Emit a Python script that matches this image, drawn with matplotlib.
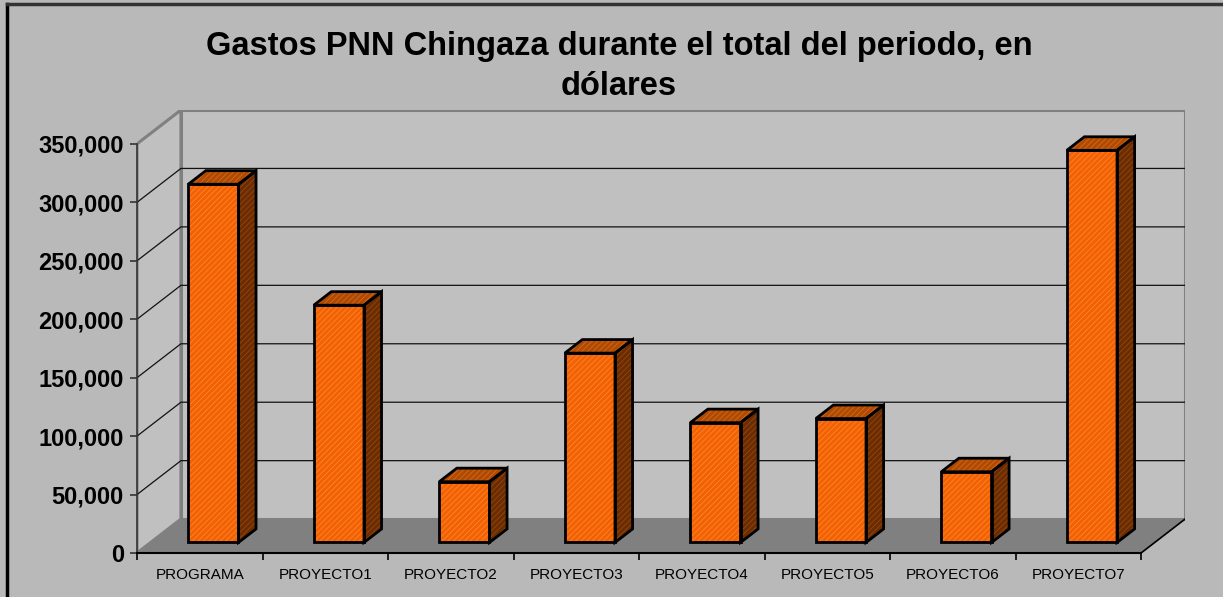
import numpy as np
import matplotlib.pyplot as plt
from matplotlib.patches import Polygon
from matplotlib.lines import Line2D
from matplotlib.ticker import FuncFormatter

categorias = ['PROGRAMA', 'PROYECTO1', 'PROYECTO2', 'PROYECTO3',
              'PROYECTO4', 'PROYECTO5', 'PROYECTO6', 'PROYECTO7']
gastos = [306500, 203000, 52000, 162000, 102500, 106000, 60500, 335500]
yticks = [0, 50000, 100000, 150000, 200000, 250000, 300000, 350000]

titulo = 'Gastos PNN Chingaza durante el total del periodo, en\ndólares'

plt.rcParams['font.family'] = 'Liberation Sans'
plt.rcParams['hatch.linewidth'] = 0.6

# oblique depth of the 3d box (category units, value units)
DX, DY = 0.35, 29000
ymax = yticks[-1]
n = len(categorias)

fig = plt.figure(figsize=(12.23, 5.97), dpi=100, facecolor='#b9b9b9')
ax = fig.add_axes([137/1223, 44/597, 1048/1223, 443/597])
ax.set_facecolor('none')
ax.set_xlim(0, n + DX)
ax.set_ylim(0, ymax + DY)

wall = '#c0c0c0'
edge = '#808080'
# back wall
ax.add_patch(Polygon([(DX, DY), (n + DX, DY), (n + DX, ymax + DY), (DX, ymax + DY)],
                     closed=True, facecolor=wall, edgecolor=edge, lw=2.2, zorder=1))
# left wall
ax.add_patch(Polygon([(0, 0), (DX, DY), (DX, ymax + DY), (0, ymax)],
                     closed=True, facecolor=wall, edgecolor=edge, lw=2.2, zorder=1))
# floor
ax.add_patch(Polygon([(0, 0), (n, 0), (n + DX, DY), (DX, DY)],
                     closed=True, facecolor='#808080', edgecolor='none', zorder=2))
ax.plot([n, n + DX], [0, DY], color='black', lw=1.2, zorder=3)

# gridlines
for v in yticks[1:-1]:
    ax.plot([0, DX, n + DX], [v, v + DY, v + DY], color='#111111', lw=0.9, zorder=2)

# bars
d0, d1 = 0.31, 0.71
for i, v in enumerate(gastos):
    x0, x1 = i + 0.3, i + 0.7
    ox0, oy0 = d0 * DX, d0 * DY
    ox1, oy1 = d1 * DX, d1 * DY
    front = [(x0 + ox0, oy0), (x1 + ox0, oy0), (x1 + ox0, v + oy0), (x0 + ox0, v + oy0)]
    side = [(x1 + ox0, oy0), (x1 + ox1, oy1), (x1 + ox1, v + oy1), (x1 + ox0, v + oy0)]
    top = [(x0 + ox0, v + oy0), (x1 + ox0, v + oy0), (x1 + ox1, v + oy1), (x0 + ox1, v + oy1)]
    for pts, fc, hc in [(front, '#f26200', '#ff8236'),
                        (side, '#6a2c00', '#94470f'),
                        (top, '#b04a00', '#d06a22')]:
        ax.add_patch(Polygon(pts, closed=True, facecolor=fc, edgecolor=hc,
                             lw=0, hatch='//////', zorder=4))
        ax.add_patch(Polygon(pts, closed=True, facecolor='none', edgecolor='black',
                             lw=2.0, joinstyle='miter', zorder=5))

# axes
for s in ['top', 'right']:
    ax.spines[s].set_visible(False)
ax.spines['left'].set_bounds(0, ymax)
ax.spines['left'].set_color('#333333')
ax.spines['left'].set_linewidth(1.2)
ax.spines['bottom'].set_bounds(0, n)
ax.spines['bottom'].set_linewidth(1.5)
ax.spines['left'].set_zorder(6)
ax.spines['bottom'].set_zorder(6)

ax.set_yticks(yticks)
ax.yaxis.set_major_formatter(FuncFormatter(lambda v, p: f'{int(v):,}'))
ax.tick_params(axis='y', direction='out', length=5, width=1.2, pad=4.5,
               labelsize=17, color='#333333')
for lab in ax.get_yticklabels():
    lab.set_fontweight('bold')

ax.set_xticks(np.arange(n + 1))
ax.set_xticklabels([])
ax.set_xticks(np.arange(n) + 0.5, minor=True)
ax.set_xticklabels(categorias, minor=True)
ax.tick_params(axis='x', which='major', direction='out', length=5, width=1.2)
ax.tick_params(axis='x', which='minor', length=0, pad=11, labelsize=11)

fig.text(0.506, 1 - 31/597, titulo, ha='center', va='top', fontsize=23.5,
         fontweight='bold', linespacing=1.38)

# chart border
fig.add_artist(Line2D([7/1223, 7/1223], [0, 1 - 4/597], color='black', lw=2.5))
fig.add_artist(Line2D([7/1223, 1], [1 - 4/597, 1 - 4/597], color='#333333', lw=2.5))

fig.savefig('out.png', dpi=100, facecolor=fig.get_facecolor())
